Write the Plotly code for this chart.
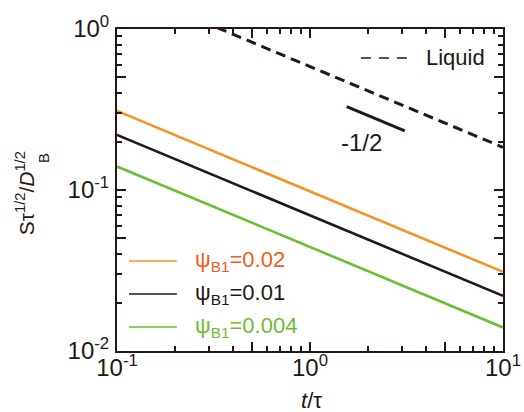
import plotly.graph_objects as go

# ---- data ----
t_vals = [0.1, 10]
psi_002 = [0.31, 0.031]
psi_001 = [0.22, 0.022]
psi_0004 = [0.14, 0.014]
liquid_t = [0.33, 10]
liquid_s = [1.02, 0.184]
slope_t = [1.55, 3.1]
slope_s = [0.33, 0.2333]

x_tickvals = [0.1, 0.5, 1, 5, 10]
x_ticktext = ["10<sup>-1</sup>", "", "10<sup>0</sup>", "", "10<sup>1</sup>"]
x_minor = [0.2, 0.3, 0.4, 0.6, 0.7, 0.8, 0.9, 2, 3, 4, 6, 7, 8, 9]
y_tickvals = [0.01, 0.05, 0.1, 0.5, 1]
y_ticktext = ["10<sup>-2</sup>", "", "10<sup>-1</sup>", "", "10<sup>0</sup>"]
y_minor = [0.02, 0.03, 0.04, 0.06, 0.07, 0.08, 0.09, 0.2, 0.3, 0.4, 0.6, 0.7, 0.8, 0.9]

ORANGE = "#f39323"
ORANGE_TXT = "#f05a24"
BLACK = "#231815"
GREEN = "#6cbd2f"
FONT = "Liberation Sans, Arial, sans-serif"

fig = go.Figure()
fig.add_trace(go.Scatter(x=t_vals, y=psi_002, mode="lines", line=dict(color=ORANGE, width=2.6)))
fig.add_trace(go.Scatter(x=t_vals, y=psi_001, mode="lines", line=dict(color=BLACK, width=2.6)))
fig.add_trace(go.Scatter(x=t_vals, y=psi_0004, mode="lines", line=dict(color=GREEN, width=2.6)))
fig.add_trace(go.Scatter(x=liquid_t, y=liquid_s, mode="lines",
                         line=dict(color=BLACK, width=3, dash="10px,6px")))
fig.add_trace(go.Scatter(x=slope_t, y=slope_s, mode="lines", line=dict(color=BLACK, width=3)))

axis_common = dict(
    type="log", showline=True, linewidth=2, linecolor=BLACK, mirror="allticks",
    ticks="inside", ticklen=9, tickwidth=1.5, tickcolor=BLACK,
    showgrid=False, zeroline=False, automargin=False,
    tickfont=dict(family=FONT, size=24, color=BLACK),
)
fig.update_xaxes(**axis_common, range=[-1, 1], tickmode="array",
                 tickvals=x_tickvals, ticktext=x_ticktext, ticklabelstandoff=-6,
                 minor=dict(tickmode="array", tickvals=x_minor, ticks="inside",
                            ticklen=5, tickwidth=1.5, tickcolor=BLACK, showgrid=False))
fig.update_yaxes(**axis_common, range=[-2, 0], tickmode="array",
                 tickvals=y_tickvals, ticktext=y_ticktext, ticklabelstandoff=1,
                 minor=dict(tickmode="array", tickvals=y_minor, ticks="inside",
                            ticklen=5, tickwidth=1.5, tickcolor=BLACK, showgrid=False))

shapes = []
annotations = []
# legend for psi series
leg = [
    (0.2795, ORANGE, ORANGE_TXT, "0.02"),
    (0.177, BLACK, BLACK, "0.01"),
    (0.0745, GREEN, GREEN, "0.004"),
]
for yp, lc, tc, val in leg:
    shapes.append(dict(type="line", xref="paper", yref="paper", x0=0.031, x1=0.155,
                       y0=yp, y1=yp, line=dict(color=lc, width=1.6)))
    annotations.append(dict(xref="paper", yref="paper", x=0.197, y=yp, xanchor="left",
                            yanchor="middle", showarrow=False,
                            text="ψ<sub>B1</sub>=" + val,
                            font=dict(family=FONT, size=22, color=tc)))
# Liquid legend
shapes.append(dict(type="line", xref="paper", yref="paper", x0=0.632, x1=0.756,
                   y0=0.91, y1=0.91, line=dict(color=BLACK, width=1.6, dash="10px,8px")))
annotations.append(dict(xref="paper", yref="paper", x=0.795, y=0.91, xanchor="left",
                        yanchor="middle", showarrow=False, text="Liquid",
                        font=dict(family=FONT, size=22, color=BLACK)))
# slope label
annotations.append(dict(x=0.265, y=-0.708, xref="x", yref="y", showarrow=False,
                        text="-1/2", font=dict(family=FONT, size=24, color=BLACK)))
# axis titles
annotations.append(dict(xref="paper", yref="paper", x=-0.238, y=0.49, showarrow=False,
                        textangle=-90, xanchor="center", yanchor="middle",
                        text="Sτ<sup>1/2</sup>/<i>D</i><sup>1/2</sup>",
                        font=dict(family=FONT, size=21, color=BLACK)))
annotations.append(dict(xref="paper", yref="paper", x=-0.19, y=0.598, showarrow=False,
                        textangle=-90, xanchor="center", yanchor="middle",
                        text="B", font=dict(family=FONT, size=15, color=BLACK)))
annotations.append(dict(xref="paper", yref="paper", x=0.505, y=-0.155, showarrow=False,
                        xanchor="center", yanchor="middle",
                        text="<i>t</i>/τ", font=dict(family=FONT, size=22, color=BLACK)))

fig.update_layout(
    width=524, height=412,
    margin=dict(l=117, r=21, t=29, b=61),
    paper_bgcolor="white", plot_bgcolor="white",
    showlegend=False,
    shapes=shapes, annotations=annotations,
    font=dict(family=FONT, color=BLACK),
)
fig.write_html("out.html")
